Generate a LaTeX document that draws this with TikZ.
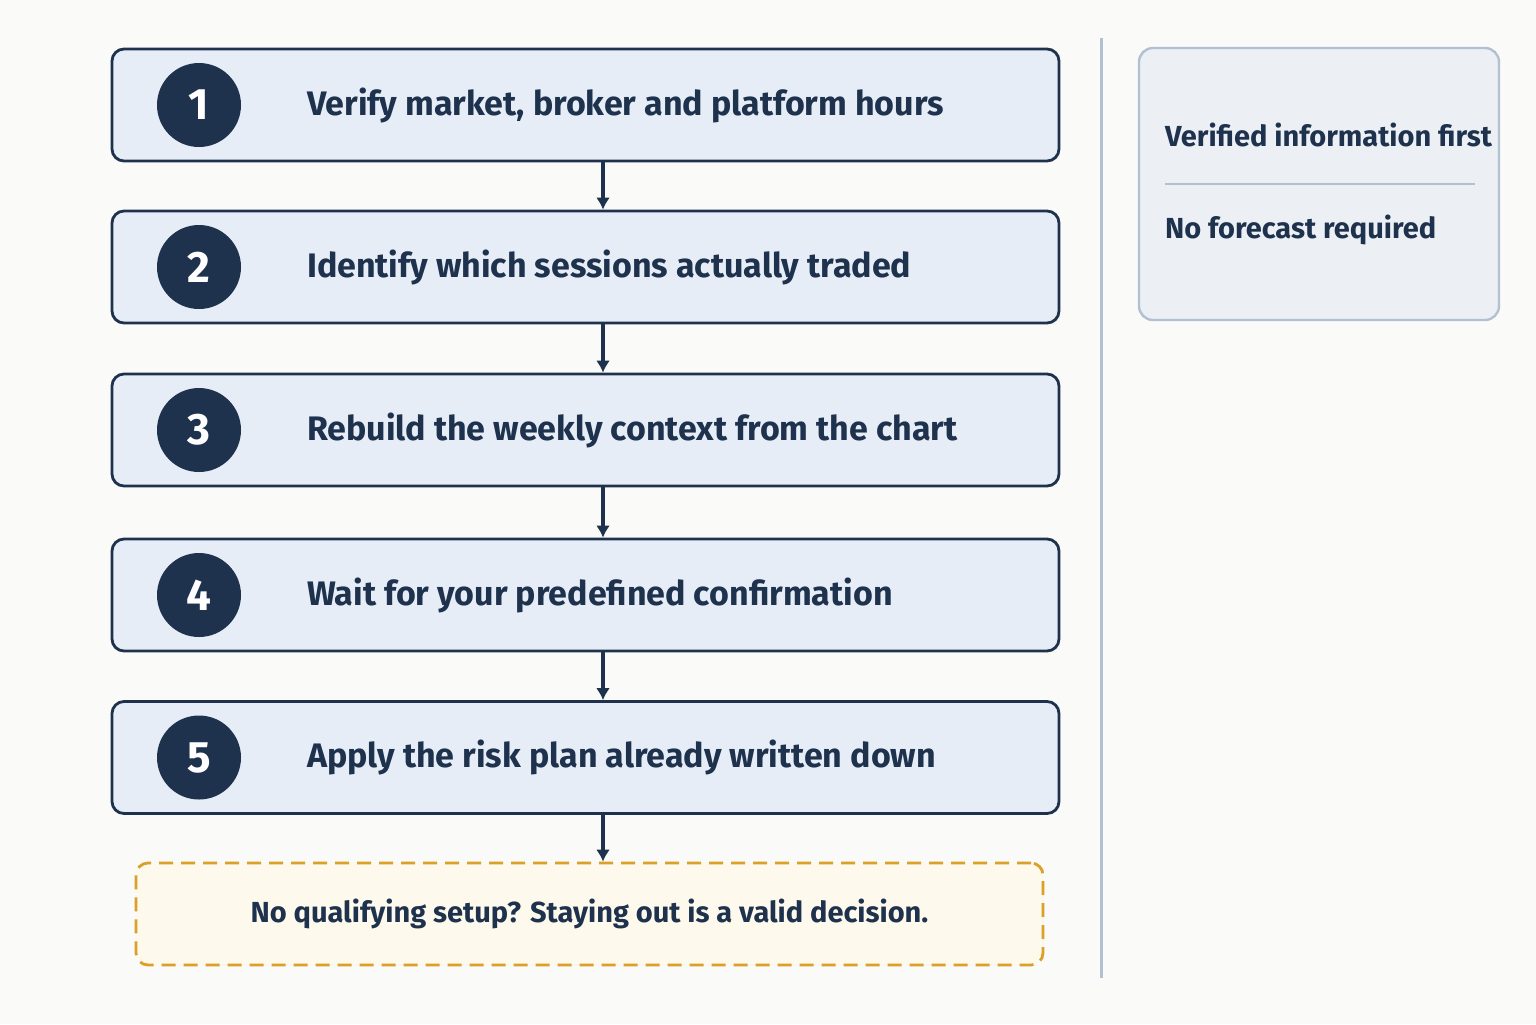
\documentclass[tikz,border=0pt]{standalone}
\usepackage{fontspec}
\setmainfont{Fira Sans}
\usepackage{xcolor}
\definecolor{navy}{RGB}{30,50,78}
\definecolor{boxfill}{RGB}{230,237,246}
\definecolor{sidefill}{RGB}{236,240,245}
\definecolor{sideline}{RGB}{178,192,210}
\definecolor{amber}{RGB}{218,160,40}
\definecolor{cream}{RGB}{253,249,236}
\definecolor{bgcol}{RGB}{250,250,248}
\tikzset{
  stepbox/.style={draw=navy,line width=1.4pt,fill=boxfill,rounded corners=6pt,minimum width=473.5pt,minimum height=56pt},
  badge/.style={circle,fill=navy,text=white,minimum size=42pt,font=\fontsize{22}{24}\selectfont\bfseries,inner sep=0pt},
  steptext/.style={anchor=west,text=navy,font=\fontsize{17}{20}\selectfont\bfseries},
  flow/.style={draw=navy,line width=1.6pt,-{Latex[length=6pt,width=7pt]}}
}
\usetikzlibrary{arrows.meta}
\begin{document}
\begin{tikzpicture}[x=0.5pt,y=-0.5pt]
    % canvas
    \fill[bgcol] (0,0) rectangle (1536,1024);
    \useasboundingbox (0,0) rectangle (1536,1024);

    % steps
    \node[stepbox] (s1) at (585.5,105) {};
    \node[stepbox] (s2) at (585.5,267) {};
    \node[stepbox] (s3) at (585.5,430) {};
    \node[stepbox] (s4) at (585.5,595) {};
    \node[stepbox] (s5) at (585.5,757.5) {};
    \foreach \i/\t in {1/{Verify market, broker and platform hours},
                       2/{Identify which sessions actually traded},
                       3/{Rebuild the weekly context from the chart},
                       4/{Wait for your predefined confirmation},
                       5/{Apply the risk plan already written down}} {
        \node[badge] (b\i) at (s\i.west -| 199,0) {\i};
        \node[steptext] (t\i) at (s\i.west -| 300,0) {\t};
    }

    % final note
    \node[draw=amber,dashed,dash pattern=on 7pt off 4pt,line width=1.4pt,fill=cream,rounded corners=6pt,
          minimum width=453.5pt,minimum height=51pt,text=navy,font=\fontsize{14.5}{17}\selectfont\bfseries]
          (note) at (589.5,914) {No qualifying setup? Staying out is a valid decision.};

    % arrows
    \draw[flow] (s1.south -| 603,0) -- (s2.north -| 603,0);
    \draw[flow] (s2.south -| 603,0) -- (s3.north -| 603,0);
    \draw[flow] (s3.south -| 603,0) -- (s4.north -| 603,0);
    \draw[flow] (s4.south -| 603,0) -- (s5.north -| 603,0);
    \draw[flow] (s5.south -| 603,0) -- (note.north -| 603,0);

    % divider
    \draw[sideline,line width=1.5pt] (1101,38) -- (1101,978);

    % side panel
    \node[draw=sideline,line width=1.2pt,fill=sidefill,rounded corners=7pt,minimum width=180pt,minimum height=136pt] (side) at (1319,184) {};
    \node[anchor=west,text=navy,font=\fontsize{14.5}{17}\selectfont\bfseries] (v) at (1158,135) {Verified information first};
    \node[anchor=west,text=navy,font=\fontsize{14.5}{17}\selectfont\bfseries] (n) at (1158,230) {No forecast required};
    \draw[sideline,line width=1pt] (1165,184) -- (1475,184);
\end{tikzpicture}
\end{document}
